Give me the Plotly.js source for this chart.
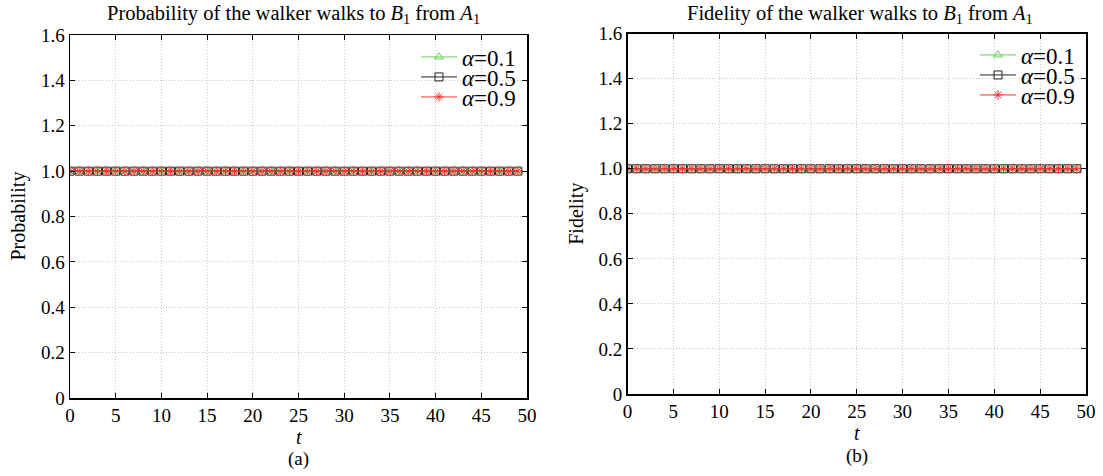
<!DOCTYPE html>
<html>
<head>
<meta charset="utf-8">
<script src="https://cdn.plot.ly/plotly-3.0.1.min.js"></script>
<style>html,body{margin:0;padding:0;background:#fff;}#chart{width:1103px;height:476px;}</style>
</head>
<body>
<div id="chart"></div>
<script>
// ---- data ----
const tValues = [0,1,2,3,4,5,6,7,8,9,10,11,12,13,14,15,16,17,18,19,20,21,22,23,24,25,26,27,28,29,30,31,32,33,34,35,36,37,38,39,40,41,42,43,44,45,46,47,48,49];
const probA01 = [1,1,1,1,1,1,1,1,1,1,1,1,1,1,1,1,1,1,1,1,1,1,1,1,1,1,1,1,1,1,1,1,1,1,1,1,1,1,1,1,1,1,1,1,1,1,1,1,1,1];
const probA05 = [1,1,1,1,1,1,1,1,1,1,1,1,1,1,1,1,1,1,1,1,1,1,1,1,1,1,1,1,1,1,1,1,1,1,1,1,1,1,1,1,1,1,1,1,1,1,1,1,1,1];
const probA09 = [1,1,1,1,1,1,1,1,1,1,1,1,1,1,1,1,1,1,1,1,1,1,1,1,1,1,1,1,1,1,1,1,1,1,1,1,1,1,1,1,1,1,1,1,1,1,1,1,1,1];
const fidA01 = [1,1,1,1,1,1,1,1,1,1,1,1,1,1,1,1,1,1,1,1,1,1,1,1,1,1,1,1,1,1,1,1,1,1,1,1,1,1,1,1,1,1,1,1,1,1,1,1,1,1];
const fidA05 = [1,1,1,1,1,1,1,1,1,1,1,1,1,1,1,1,1,1,1,1,1,1,1,1,1,1,1,1,1,1,1,1,1,1,1,1,1,1,1,1,1,1,1,1,1,1,1,1,1,1];
const fidA09 = [1,1,1,1,1,1,1,1,1,1,1,1,1,1,1,1,1,1,1,1,1,1,1,1,1,1,1,1,1,1,1,1,1,1,1,1,1,1,1,1,1,1,1,1,1,1,1,1,1,1];
const seriesNames = ['<i>α</i>=0.1', '<i>α</i>=0.5', '<i>α</i>=0.9'];
const xTickVals = [0,5,10,15,20,25,30,35,40,45,50];
const yTickVals = [0,0.2,0.4,0.6,0.8,1.0,1.2,1.4,1.6];
const yTickText = ['0','0.2','0.4','0.6','0.8','1.0','1.2','1.4','1.6'];

const FONT = '"Liberation Serif", "Times New Roman", Times, serif';
const colors = ['#66cc55', '#222222', '#ff3333'];
const symbols = ['triangle-up-open', 'square-open', 'asterisk-open'];

function mk(y, i, xa, ya, lg) {
  return {
    x: tValues, y: y, type: 'scatter', mode: 'lines+markers',
    name: seriesNames[i], xaxis: xa, yaxis: ya, legend: lg,
    line: {color: colors[i], width: 1},
    marker: {symbol: symbols[i], size: 8, color: colors[i], line: {color: colors[i], width: 1}}
  };
}
const data = [
  mk(probA01, 0, 'x', 'y', 'legend'),
  mk(probA05, 1, 'x', 'y', 'legend2'),
  mk(probA09, 2, 'x', 'y', 'legend3'),
  mk(fidA01, 0, 'x2', 'y2', 'legend4'),
  mk(fidA05, 1, 'x2', 'y2', 'legend5'),
  mk(fidA09, 2, 'x2', 'y2', 'legend6')
];

function xax(dom, anchor) {
  return {
    domain: dom, anchor: anchor, range: [0, 50], tickvals: xTickVals,
    showline: true, linecolor: '#000', linewidth: 1.5, mirror: 'ticks',
    ticks: 'inside', ticklen: 5, tickcolor: '#000',
    showgrid: true, gridcolor: '#c4c4c4', griddash: '1px,2px', gridwidth: 1,
    zeroline: false, tickfont: {family: FONT, size: 19, color: '#000'}
  };
}
function yax(dom, anchor) {
  return {
    domain: dom, anchor: anchor, range: [0, 1.6], tickvals: yTickVals, ticktext: yTickText,
    showline: true, linecolor: '#000', linewidth: 1.5, mirror: 'ticks',
    ticks: 'inside', ticklen: 5, tickcolor: '#000',
    showgrid: true, gridcolor: '#c4c4c4', griddash: '1px,2px', gridwidth: 1,
    zeroline: false, tickfont: {family: FONT, size: 19, color: '#000'}
  };
}
const lx = [70/1103, 527/1103], ly = [1-398/476, 1-35/476];
const rx = [627.5/1103, 1086/1103], ry = [1-394/476, 1-33.6/476];

function leg(xl, yc) {
  return {
    x: xl/1103, y: 1-yc/476, xanchor: 'left', yanchor: 'middle', xref: 'paper', yref: 'paper',
    bgcolor: 'rgba(0,0,0,0)', borderwidth: 0,
    font: {family: FONT, size: 23, color: '#000'}, tracegroupgap: 0, itemwidth: 36
  };
}

const ann = (x, y, text, size, extra) => Object.assign({
  x: x, y: y, xref: 'paper', yref: 'paper', text: text, showarrow: false,
  font: {family: FONT, size: size, color: '#000'}, xanchor: 'center', yanchor: 'middle'
}, extra || {});

const layout = {
  width: 1103, height: 476, margin: {l: 0, r: 0, t: 0, b: 0},
  paper_bgcolor: '#fff', plot_bgcolor: '#fff', showlegend: true,
  font: {family: FONT, color: '#000'},
  xaxis: xax(lx, 'y'), yaxis: yax(ly, 'x'),
  xaxis2: xax(rx, 'y2'), yaxis2: yax(ry, 'x2'),
  legend: leg(416, 57),
  legend2: leg(416, 77),
  legend3: leg(416, 97),
  legend4: leg(975, 55),
  legend5: leg(975, 75),
  legend6: leg(975, 95),
  annotations: [
    ann(293/1103, 1-14/476, 'Probability of the walker walks to <i>B</i><sub>1</sub> from <i>A</i><sub>1</sub>', 20.5),
    ann(860/1103, 1-14/476, 'Fidelity of the walker walks to <i>B</i><sub>1</sub> from <i>A</i><sub>1</sub>', 20.5),
    ann(18/1103, (ly[0]+ly[1])/2, 'Probability', 20, {textangle: -90}),
    ann(577/1103, (ry[0]+ry[1])/2, 'Fidelity', 20, {textangle: -90}),
    ann((lx[0]+lx[1])/2, 1-437/476, '<i>t</i>', 20),
    ann((rx[0]+rx[1])/2, 1-433/476, '<i>t</i>', 20),
    ann((lx[0]+lx[1])/2, 1-459/476, '(a)', 19),
    ann((rx[0]+rx[1])/2, 1-456/476, '(b)', 19)
  ]
};

Plotly.newPlot('chart', data, layout, {staticPlot: true, displayModeBar: false});
</script>
</body>
</html>
